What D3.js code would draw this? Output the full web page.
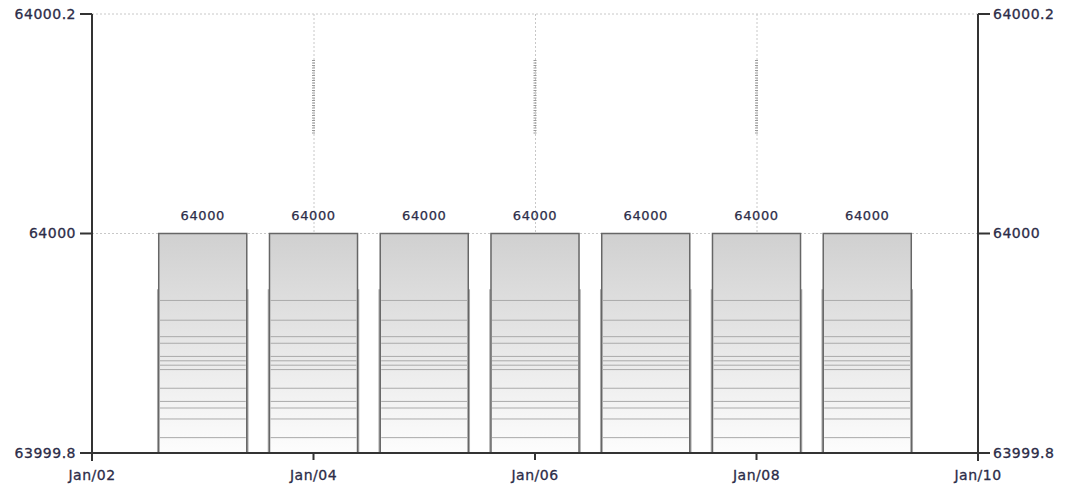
<!DOCTYPE html>
<html><head><meta charset="utf-8">
<script src="https://cdn.jsdelivr.net/npm/d3@7"></script>
<style>body{margin:0;background:#fff}svg{display:block}</style>
</head><body>
<svg id="c" width="1065" height="488"></svg>
<script>
const dates = ["2000-01-03","2000-01-04","2000-01-05","2000-01-06","2000-01-07","2000-01-08","2000-01-09"];
const values = [64000,64000,64000,64000,64000,64000,64000];
const yTicks = [63999.8, 64000, 64000.2];
const xTickDates = ["2000-01-02","2000-01-04","2000-01-06","2000-01-08","2000-01-10"];
const ghostLevels = [63999.939,63999.921,63999.906,63999.900,63999.888,63999.884,63999.880,63999.876,63999.859,63999.847,63999.841,63999.831,63999.814];
const ghostTop = 63999.9485;
const noiseRange = [64000.158, 64000.09];

const parse = d3.timeParse("%Y-%m-%d");
const W=1065,H=488, L=92, R=978, T=14, B=453;
const svg = d3.select("#c");
const x = d3.scaleTime().domain([parse("2000-01-02"), parse("2000-01-10")]).range([L,R]);
const y = d3.scaleLinear().domain([63999.8,64000.2]).range([B,T]);
const textCol = "#2c2c48";
const font = "'DejaVu Sans', Verdana, sans-serif";

const defs = svg.append("defs");
const g = defs.append("linearGradient").attr("id","bg").attr("x1",0).attr("y1",0).attr("x2",0).attr("y2",1);
g.append("stop").attr("offset","0%").attr("stop-color","#d0d0d0");
g.append("stop").attr("offset","100%").attr("stop-color","#fdfdfd");

// grid
const grid = svg.append("g");
grid.selectAll("line.h").data(yTicks.slice(1)).join("line")
  .attr("x1",L).attr("x2",R).attr("y1",d=>y(d)).attr("y2",d=>y(d))
  .attr("stroke","#c8c8c8").attr("stroke-dasharray","2,2");
grid.selectAll("line.v").data(xTickDates.slice(1,-1)).join("line")
  .attr("x1",d=>x(parse(d))+0.5).attr("x2",d=>x(parse(d))+0.5).attr("y1",T).attr("y2",B)
  .attr("stroke","#c8c8c8").attr("stroke-dasharray","2,2");
grid.selectAll("line.n").data(xTickDates.slice(1,-1)).join("line")
  .attr("x1",d=>x(parse(d))).attr("x2",d=>x(parse(d))).attr("y1",y(noiseRange[0])).attr("y2",y(noiseRange[1]))
  .attr("stroke","#999").attr("stroke-width",3).attr("stroke-dasharray","1,1.5");

const day = x(parse("2000-01-03"))-x(parse("2000-01-02"));
const bw = day*0.795;

const bars = svg.append("g").selectAll("g").data(dates.map((d,i)=>({d:parse(d),v:values[i]}))).join("g");
bars.append("rect")
  .attr("x",d=>x(d.d)-bw/2-1).attr("width",bw+2)
  .attr("y",y(ghostTop)).attr("height",B-y(ghostTop))
  .attr("fill","none").attr("stroke","#aaa").attr("stroke-width",1.5);
bars.append("rect")
  .attr("x",d=>x(d.d)-bw/2).attr("width",bw)
  .attr("y",d=>y(d.v)).attr("height",d=>B-y(d.v))
  .attr("fill","url(#bg)").attr("stroke","#666").attr("stroke-width",1.5);
bars.each(function(d){
  d3.select(this).selectAll("line").data(ghostLevels).join("line")
    .attr("x1",x(d.d)-bw/2+1).attr("x2",x(d.d)+bw/2-1)
    .attr("y1",v=>y(v)).attr("y2",v=>y(v))
    .attr("stroke","#aaaaaa").attr("stroke-width",1);
});
bars.append("text")
  .attr("x",d=>x(d.d)).attr("y",d=>y(d.v)-14)
  .attr("text-anchor","middle").attr("font-family",font).attr("font-size",13)
  .attr("letter-spacing",0.6).attr("fill",textCol).attr("stroke",textCol).attr("stroke-width",0.25).text(d=>d3.format("d")(d.v));

// axes
const fmtY = d=> d3.format(".1f")(d).replace(/\.0$/,"");
const ax = svg.append("g").attr("font-family",font).attr("font-size",14).attr("fill",textCol).attr("stroke",textCol).attr("stroke-width",0.3);
svg.append("line").attr("x1",L-12).attr("x2",R+12).attr("y1",B).attr("y2",B).attr("stroke","#333").attr("stroke-width",2);
svg.append("line").attr("x1",L).attr("x2",L).attr("y1",T).attr("y2",B+8).attr("stroke","#333").attr("stroke-width",2);
svg.append("line").attr("x1",R).attr("x2",R).attr("y1",T).attr("y2",B+8).attr("stroke","#333").attr("stroke-width",2);
yTicks.forEach(t=>{
  svg.append("line").attr("x1",L-12).attr("x2",L).attr("y1",y(t)).attr("y2",y(t)).attr("stroke","#333").attr("stroke-width",2);
  svg.append("line").attr("x1",R).attr("x2",R+12).attr("y1",y(t)).attr("y2",y(t)).attr("stroke","#333").attr("stroke-width",2);
  ax.append("text").attr("x",L-16).attr("y",y(t)).attr("dy","0.35em").attr("text-anchor","end").attr("letter-spacing",0.5).text(fmtY(t));
  ax.append("text").attr("x",R+15).attr("y",y(t)).attr("dy","0.35em").attr("text-anchor","start").attr("letter-spacing",0.5).text(fmtY(t));
});
xTickDates.forEach(s=>{
  const d=parse(s);
  svg.append("line").attr("x1",x(d)).attr("x2",x(d)).attr("y1",B).attr("y2",B+7).attr("stroke","#333").attr("stroke-width",2);
  ax.append("text").attr("x",x(d)).attr("y",B+27).attr("text-anchor","middle").attr("letter-spacing",0.5).text(d3.timeFormat("%b/%d")(d));
});
</script>
</body></html>
